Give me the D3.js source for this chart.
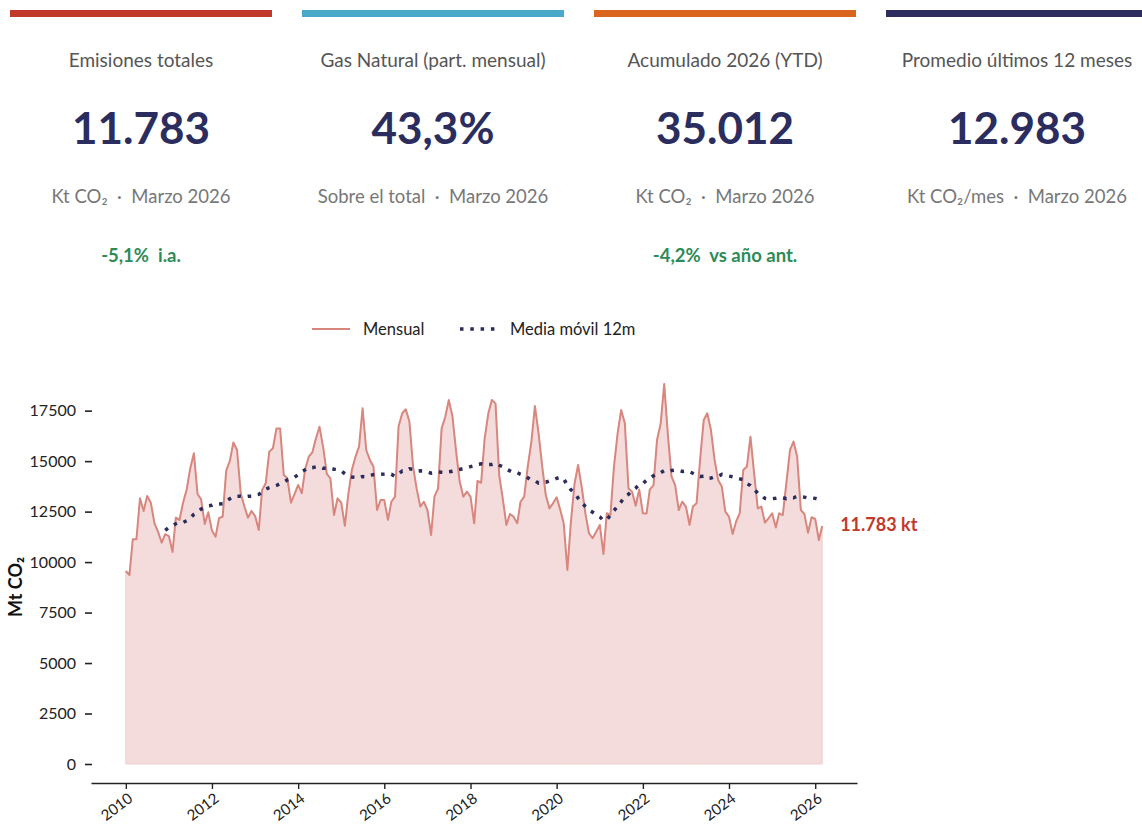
<!DOCTYPE html>
<html>
<head>
<meta charset="utf-8">
<script src="https://cdn.jsdelivr.net/npm/d3@7"></script>
<style>
body { margin: 0; background: #fff; }
svg { font-family: Lato, "Open Sans", sans-serif; }
.chg { white-space: pre; }
</style>
</head>
<body>
<div id="chart"></div>
<script>
// KPI cards
let kpiTitles = ["Emisiones totales", "Gas Natural (part. mensual)", "Acumulado 2026 (YTD)", "Promedio últimos 12 meses"]
let kpiValues = ["11.783", "43,3%", "35.012", "12.983"]
let kpiUnits = ["Kt CO₂  ·  Marzo 2026", "Sobre el total  ·  Marzo 2026", "Kt CO₂  ·  Marzo 2026", "Kt CO₂/mes  ·  Marzo 2026"]
let kpiChanges = ["-5,1%  i.a.", "", "-4,2%  vs año ant.", ""]
let kpiColors = ["#c0392b", "#4aa8c9", "#d9651f", "#2e2d5e"]

// monthly emissions, Jan 2010 .. Mar 2026 (kt CO2)
let startYear = 2010
let monthly = [
  9560, 9360, 11130, 11130, 13160, 12530, 13270, 12940, 11920, 11510, 10960, 11380,
  11290, 10500, 12200, 12090, 12940, 13600, 14640, 15390, 13370, 13110, 11890, 12470,
  11560, 11260, 12170, 12250, 14530, 15020, 15920, 15550, 13410, 12780, 12200, 12530,
  12280, 11590, 13570, 13900, 15470, 15640, 16620, 16610, 14310, 14150, 12940, 13370,
  13820, 13410, 14600, 15220, 15430, 16130, 16700, 15680, 14370, 14150, 12330, 13160,
  12940, 11800, 13320, 14560, 15200, 15720, 17620, 15550, 15060, 14730, 12580, 13080,
  13070, 12090, 12990, 13240, 16710, 17370, 17570, 16960, 14730, 13650, 12750, 12990,
  12580, 11340, 13240, 13650, 16620, 17200, 18030, 17210, 15470, 14000, 13240, 13490,
  13240, 11920, 14020, 13930, 16130, 17370, 18030, 17860, 14310, 13160, 11840, 12380,
  12250, 11920, 12990, 13240, 14730, 15970, 17730, 16380, 14730, 13320, 12660, 12910,
  13210, 12580, 11920, 9610, 12000, 13900, 14810, 13700, 12400, 11430, 11180, 11500,
  11840, 10400, 12420, 12330, 14730, 16390, 17530, 16880, 13650, 13490, 12790, 13600,
  12420, 12410, 13600, 13800, 16050, 16870, 18820, 16300, 14230, 13820, 12580, 12990,
  12750, 11840, 12750, 12910, 15060, 17040, 17370, 16540, 15060, 14070, 13740, 12500,
  12250, 11390, 12000, 12420, 14560, 14730, 16210, 14400, 12660, 12750, 11950, 12170,
  12420, 11710, 12416, 12330, 13900, 15550, 15970, 15220, 12580, 12380, 11450, 12220,
  12134, 11095, 11783
]

let xTickYears = [2010, 2012, 2014, 2016, 2018, 2020, 2022, 2024, 2026]
let yTickValues = [0, 2500, 5000, 7500, 10000, 12500, 15000, 17500]
let legendLabels = ["Mensual", "Media móvil 12m"]

let width = 1142
let height = 830

let lineColor = "#d8877e"
let fillColor = "#f3dcdb"
let maColor = "#2b2b5c"
let labelRed = "#c0392b"

let svg = d3.select("#chart")
  .append("svg")
  .attr("width", width)
  .attr("height", height)

svg.append("rect").attr("width", width).attr("height", height).attr("fill", "#fff")

// ---- KPI cards ----
let cardW = 262
let cardGap = 30
let cardX = 10

kpiTitles.forEach(function (title, i) {
  let x0 = cardX + i * (cardW + cardGap)
  let cx = x0 + cardW / 2
  let g = svg.append("g")

  g.append("rect")
    .attr("x", x0).attr("y", 10)
    .attr("width", cardW).attr("height", 7)
    .attr("fill", kpiColors[i])

  g.append("text")
    .attr("x", cx).attr("y", 67)
    .attr("text-anchor", "middle")
    .attr("font-size", 19)
    .attr("fill", "#555")
    .text(title)

  g.append("text")
    .attr("x", cx).attr("y", 144)
    .attr("text-anchor", "middle")
    .attr("font-size", 44)
    .attr("font-weight", 700)
    .attr("fill", "#2b2d5e")
    .text(kpiValues[i])

  g.append("text")
    .attr("x", cx).attr("y", 203)
    .attr("text-anchor", "middle")
    .attr("font-size", 18.5)
    .attr("fill", "#777")
    .attr("class", "chg")
    .text(kpiUnits[i])

  if (kpiChanges[i]) {
    g.append("text")
      .attr("x", cx).attr("y", 262)
      .attr("text-anchor", "middle")
      .attr("font-size", 18.5)
      .attr("font-weight", 700)
      .attr("fill", "#2e8b57")
      .attr("class", "chg")
      .text(kpiChanges[i])
  }
})

// ---- chart ----
let data = monthly.map(function (v, i) {
  return { date: new Date(startYear, i, 1), value: v }
})

// trailing 12 month mean
let rolling = []
for (let i = 11; i < data.length; i++) {
  rolling.push({ date: data[i].date, value: d3.mean(data.slice(i - 11, i + 1), d => d.value) })
}

let plotLeft = 91
let plotRight = 857
let plotTop = 365
let plotBottom = 783

let t0 = data[0].date
let t1 = data[data.length - 1].date
let span = t1 - t0
let xScale = d3.scaleTime()
  .domain([new Date(+t0 - span * 0.05), new Date(+t1 + span * 0.05)])
  .range([plotLeft, plotRight])

let yMax = d3.max(monthly)
let yScale = d3.scaleLinear()
  .domain([-yMax * 0.05, yMax * 1.05])
  .range([plotBottom, plotTop])

let area = d3.area()
  .x(d => xScale(d.date))
  .y0(yScale(0))
  .y1(d => yScale(d.value))

svg.append("path")
  .datum(data)
  .attr("d", area)
  .attr("fill", fillColor)
  .attr("stroke", "#efcfcd")
  .attr("stroke-width", 1)

let line = d3.line()
  .x(d => xScale(d.date))
  .y(d => yScale(d.value))

svg.append("path")
  .datum(data)
  .attr("d", line)
  .attr("fill", "none")
  .attr("stroke", lineColor)
  .attr("stroke-width", 2)
  .attr("stroke-linejoin", "round")

svg.append("path")
  .datum(rolling)
  .attr("d", line)
  .attr("fill", "none")
  .attr("stroke", maColor)
  .attr("stroke-width", 3.5)
  .attr("stroke-dasharray", "3.5,6.8")

// end label
let last = data[data.length - 1]
let fmt = d3.formatLocale({ decimal: ",", thousands: ".", grouping: [3], currency: ["", ""] }).format(",d")
svg.append("text")
  .attr("x", xScale(last.date) + 18)
  .attr("y", yScale(last.value))
  .attr("dy", "0.3em")
  .attr("font-size", 18)
  .attr("font-weight", 700)
  .attr("fill", labelRed)
  .text(fmt(last.value) + " kt")

// x axis
let xAxis = d3.axisBottom(xScale)
  .tickValues(xTickYears.map(y => new Date(y, 0, 1)))
  .tickFormat(d3.timeFormat("%Y"))
  .tickSize(6)
  .tickSizeOuter(0)

let gx = svg.append("g")
  .attr("transform", `translate(0, ${plotBottom})`)
  .call(xAxis)
gx.select(".domain").attr("stroke", "#222").attr("stroke-width", 1.6)
gx.selectAll(".tick line").attr("stroke", "#222").attr("stroke-width", 1.4)
gx.selectAll(".tick text")
  .attr("font-family", "Lato, sans-serif")
  .attr("font-size", 15)
  .attr("fill", "#222")
  .attr("text-anchor", "end")
  .attr("transform", "translate(1, 9) rotate(-37)")
  .attr("dy", "0.71em")
  .attr("y", 0)
  .attr("x", 0)

// y axis (no spine)
let yAxis = d3.axisLeft(yScale)
  .tickValues(yTickValues)
  .tickFormat(d3.format("d"))
  .tickSize(7)
  .tickPadding(9)

let gy = svg.append("g")
  .attr("transform", `translate(${plotLeft + 1}, 0)`)
  .call(yAxis)
gy.select(".domain").remove()
gy.selectAll(".tick line").attr("stroke", "#222").attr("stroke-width", 1.6)
gy.selectAll(".tick text")
  .attr("font-family", "Lato, sans-serif")
  .attr("font-size", 16)
  .attr("fill", "#222")

svg.append("text")
  .attr("transform", `translate(22, ${(plotTop + plotBottom) / 2 + 13}) rotate(-90)`)
  .attr("text-anchor", "middle")
  .attr("font-size", 18)
  .attr("font-weight", 700)
  .attr("fill", "#111")
  .text("Mt CO₂")

// legend
let lg = svg.append("g").attr("transform", "translate(312, 329)")
lg.append("line")
  .attr("x1", 0).attr("x2", 38).attr("y1", 0).attr("y2", 0)
  .attr("stroke", lineColor).attr("stroke-width", 2)
lg.append("text")
  .attr("x", 51).attr("y", 0).attr("dy", "0.35em")
  .attr("font-size", 16.5).attr("fill", "#222")
  .text(legendLabels[0])
lg.append("line")
  .attr("x1", 148).attr("x2", 186).attr("y1", 0).attr("y2", 0)
  .attr("stroke", maColor).attr("stroke-width", 3.5)
  .attr("stroke-dasharray", "3.5,6.8")
lg.append("text")
  .attr("x", 198).attr("y", 0).attr("dy", "0.35em")
  .attr("font-size", 16.5).attr("fill", "#222")
  .text(legendLabels[1])
</script>
</body>
</html>
